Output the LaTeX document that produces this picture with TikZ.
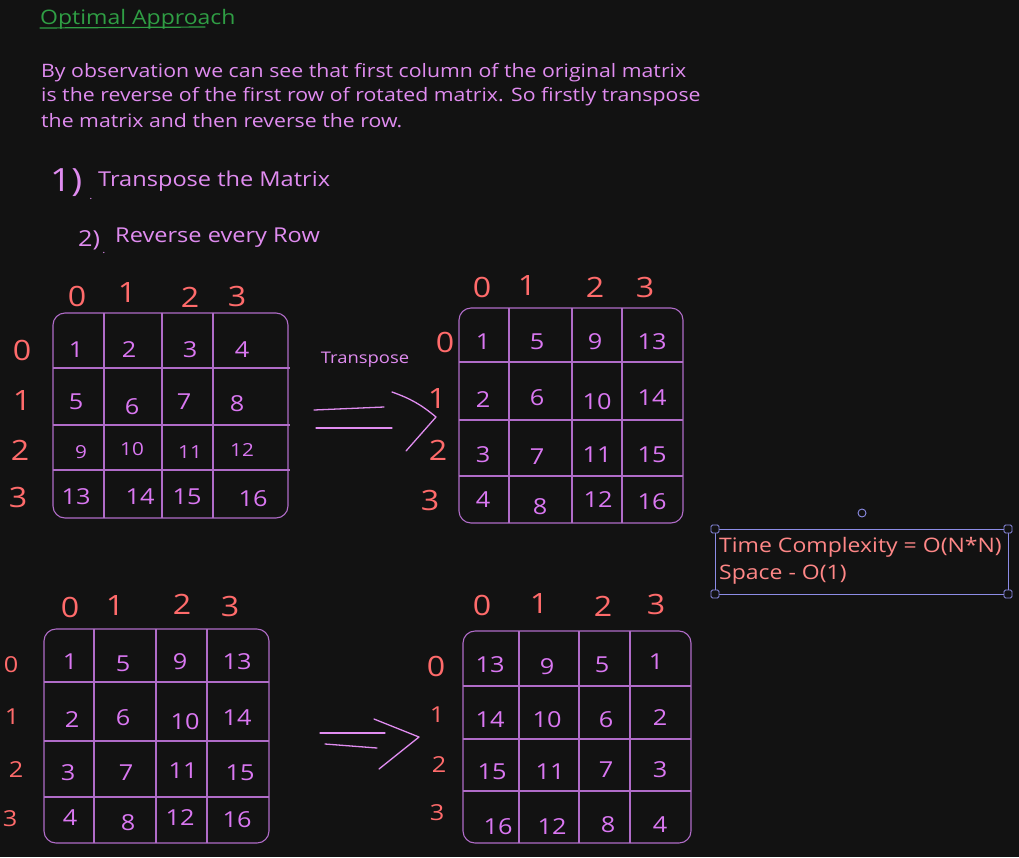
\documentclass[tikz,border=0pt]{standalone}
\usepackage{fontspec}
\setmainfont{Open Sans}[FakeStretch=1.15]
\definecolor{bgc}{HTML}{121212}
\definecolor{parac}{HTML}{E08CF0}
\definecolor{numc}{HTML}{DA77F2}
\definecolor{gridc}{HTML}{B06CC8}
\definecolor{labc}{HTML}{FF6B6B}
\definecolor{ttlc}{HTML}{2F9E44}
\definecolor{notec}{HTML}{FF8787}
\definecolor{selc}{HTML}{8C8CE6}
\tikzset{
  num/.style={text=numc, font=\fontsize{22}{22}\selectfont, inner sep=0pt},
  smallnum/.style={text=numc, font=\fontsize{18}{18}\selectfont, inner sep=0pt},
  lbl/.style={text=labc, font=\fontsize{28}{28}\selectfont, inner sep=0pt},
  smalllbl/.style={text=labc, font=\fontsize{22}{22}\selectfont, inner sep=0pt},
  gridl/.style={draw=gridc, line width=1.1pt},
  matframe/.style={draw=gridc, line width=1.1pt, rounded corners=12pt},
  paratext/.style={text=parac, font=\fontsize{18.5}{18.5}\selectfont, anchor=west, inner sep=0pt},
  stepitem/.style={text=parac, font=\fontsize{20.5}{20.5}\selectfont, anchor=west, inner sep=0pt},
  arrowl/.style={draw=parac, line width=1.3pt, line cap=round, line join=round},
  notetext/.style={text=notec, font=\fontsize{20}{20}\selectfont, anchor=west, inner sep=0pt},
  handle/.style={draw=selc, fill=bgc, line width=0.9pt, rounded corners=1.5pt},
}
\begin{document}
\begin{tikzpicture}[x=1pt,y=-1pt]
\fill[bgc] (0,0) rectangle (1019,857);
\useasboundingbox (0,0) rectangle (1019,857);

% title
\node[text=ttlc, font=\fontsize{20}{20}\selectfont, anchor=west, inner sep=0pt] (title) at (40,19) {Optimal Approach};
\draw[ttlc, line width=1.2pt, line cap=round] (40,28) -- (205,27);

% paragraph
\node[paratext] (p1) at (41,73) {By observation we can see that first column of the original matrix};
\node[paratext] (p2) at (41,97) {is the reverse of the first row of rotated matrix. So firstly transpose};
\node[paratext] (p3) at (41,121) {the matrix and then reverse the row.};

% steps
\node[text=parac, font=\fontsize{32}{32}\selectfont, anchor=west, inner sep=0pt] (s1n) at (50,183) {1)};
\node[text=parac, font=\fontsize{10}{10}\selectfont, inner sep=0pt] (s1d) at (91,199) {.};
\node[stepitem] (s1) at (98,181) {Transpose the Matrix};
\node[text=parac, font=\fontsize{22}{22}\selectfont, anchor=west, inner sep=0pt] (s2n) at (78,240) {2)};
\node[text=parac, font=\fontsize{10}{10}\selectfont, inner sep=0pt] (s2d) at (104,253) {.};
\node[stepitem] (s2) at (115,238) {Reverse every Row};

% ---------- Matrix A (original) ----------
\coordinate (A-tl) at (53,313); \coordinate (A-br) at (288,518);
\draw[matframe] (A-tl) rectangle (A-br);
\foreach \x in {104,162,213} \draw[gridl] (\x,313) -- (\x,518);
\foreach \y in {368,425,470} \draw[gridl] (53,\y) -- (290,\y);
\foreach \x/\y/\t [count=\i] in {76/350/1,129/350/2,190/350/3,242/350/4,
  76/402/5,132/407/6,184/402/7,237/404/8,
  76/497/13,140/497/14,187/497/15,253/499/16}
  \node[num] (A\i) at (\x,\y) {\t};
\foreach \x/\y/\t [count=\i] in {81/452/9,132/449/10,190/452/11,242/450/12}
  \node[smallnum] (Ar\i) at (\x,\y) {\t};
\foreach \x/\y/\t [count=\i] in {77/296/0,127/292/1,190/297/2,237/296/3}
  \node[lbl] (Ac\i) at (\x,\y) {\t};
\foreach \x/\y/\t [count=\i] in {22/350/0,22/400/1,20/450/2,18/497/3}
  \node[lbl] (AR\i) at (\x,\y) {\t};

% arrow 1
\node[text=parac, font=\fontsize{16}{16}\selectfont, inner sep=0pt] (tlabel) at (365,360) {Transpose};
\coordinate (a1s) at (314,410); \coordinate (a1e) at (384,407);
\coordinate (a2s) at (316,428); \coordinate (a2e) at (392,428);
\coordinate (c1) at (392,392); \coordinate (c2) at (436,417); \coordinate (c3) at (406,451);
\draw[arrowl] (a1s) -- (a1e);
\draw[arrowl] (a2s) -- (a2e);
\draw[arrowl] (c1) to[bend left=10] (c2) -- (c3);

% ---------- Matrix B (transposed) ----------
\coordinate (B-tl) at (459,308); \coordinate (B-br) at (683,523);
\draw[matframe] (B-tl) rectangle (B-br);
\foreach \x in {509,572,622} \draw[gridl] (\x,308) -- (\x,523);
\foreach \y in {362,420,476} \draw[gridl] (459,\y) -- (683,\y);
\foreach \x/\y/\t [count=\i] in {483/342/1,537/342/5,595/342/9,652/342/13,
  483/400/2,537/398/6,597/402/10,652/398/14,
  483/455/3,537/457/7,597/455/11,652/455/15,
  483/500/4,540/507/8,598/500/12,652/502/16}
  \node[num] (B\i) at (\x,\y) {\t};
\foreach \x/\y/\t [count=\i] in {482/287/0,527/285/1,595/287/2,645/287/3}
  \node[lbl] (Bc\i) at (\x,\y) {\t};
\foreach \x/\y/\t [count=\i] in {445/342/0,437/398/1,438/450/2,430/500/3}
  \node[lbl] (BR\i) at (\x,\y) {\t};

% ---------- note box ----------
\coordinate (n-tl) at (715,529); \coordinate (n-br) at (1008,594);
\draw[selc, line width=0.9pt] (n-tl) rectangle (n-br);
\foreach \x/\y [count=\i] in {715/529,1008/529,715/594,1008/594}
  \draw[handle] (\x-4,\y-4) rectangle (\x+4,\y+4);
\draw[selc, line width=0.9pt, fill=bgc] (862,513) circle (4);
\node[notetext] (n1) at (719,547) {Time Complexity = O(N*N)};
\node[notetext] (n2) at (719,575) {Space - O(1)};

% ---------- Matrix C (transposed copy) ----------
\coordinate (C-tl) at (44,629); \coordinate (C-br) at (269,843);
\draw[matframe] (C-tl) rectangle (C-br);
\foreach \x in {94,156,207} \draw[gridl] (\x,629) -- (\x,843);
\foreach \y in {682,741,797} \draw[gridl] (44,\y) -- (269,\y);
\foreach \x/\y/\t [count=\i] in {70/662/1,123/664/5,180/662/9,237/662/13,
  72/720/2,123/718/6,185/722/10,237/718/14,
  68/773/3,126/773/7,183/771/11,240/773/15,
  70/818/4,128/823/8,180/818/12,237/820/16}
  \node[num] (C\i) at (\x,\y) {\t};
\foreach \x/\y/\t [count=\i] in {70/607/0,115/605/1,182/604/2,230/606/3}
  \node[lbl] (Cc\i) at (\x,\y) {\t};
\foreach \x/\y/\t [count=\i] in {11/665/0,12/717/1,16/770/2,10/819/3}
  \node[smalllbl] (CR\i) at (\x,\y) {\t};

% arrow 2
\coordinate (d1s) at (320,733); \coordinate (d1e) at (385,733);
\coordinate (d2s) at (325,744); \coordinate (d2e) at (377,748);
\coordinate (e1) at (374,719); \coordinate (e2) at (419,737); \coordinate (e3) at (379,769);
\draw[arrowl] (d1s) -- (d1e);
\draw[arrowl] (d2s) -- (d2e);
\draw[arrowl] (e1) -- (e2) -- (e3);

% ---------- Matrix D (rotated) ----------
\coordinate (D-tl) at (463,631); \coordinate (D-br) at (691,843);
\draw[matframe] (D-tl) rectangle (D-br);
\foreach \x in {519,579,630} \draw[gridl] (\x,631) -- (\x,843);
\foreach \y in {686,739,791} \draw[gridl] (463,\y) -- (691,\y);
\foreach \x/\y/\t [count=\i] in {490/665/13,547/667/9,602/665/5,656/662/1,
  490/720/14,547/720/10,606/720/6,660/718/2,
  492/772/15,550/772/11,606/770/7,660/770/3,
  498/827/16,552/827/12,608/825/8,660/825/4}
  \node[num] (D\i) at (\x,\y) {\t};
\foreach \x/\y/\t [count=\i] in {482/605/0,539/603/1,603/606/2,656/604/3}
  \node[lbl] (Dc\i) at (\x,\y) {\t};
\node[lbl] (DR0) at (436,666) {0};
\foreach \x/\y/\t [count=\i] in {437/715/1,439/765/2,437/813/3}
  \node[smalllbl] (DR\i) at (\x,\y) {\t};
\end{tikzpicture}
\end{document}
